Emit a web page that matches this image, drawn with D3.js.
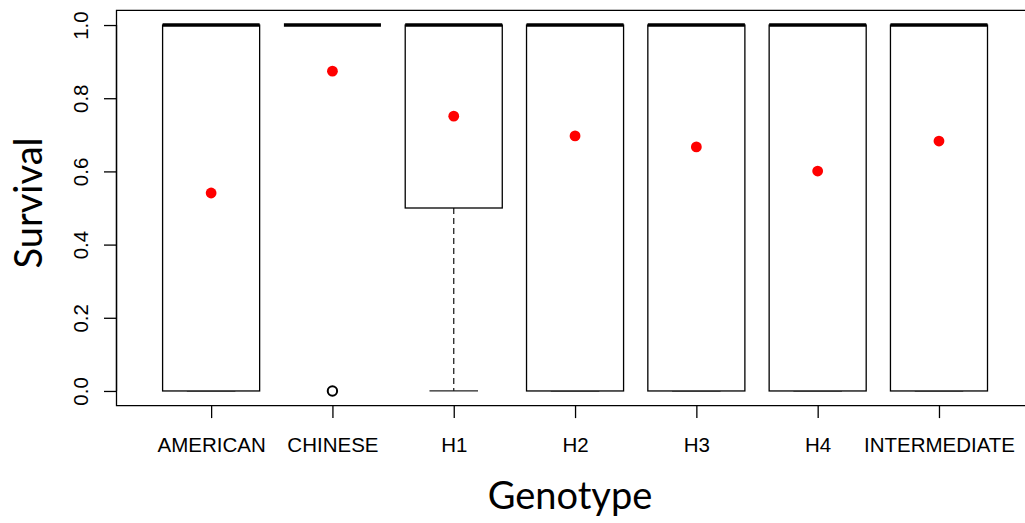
<!DOCTYPE html>
<html>
<head>
<meta charset="utf-8">
<script src="https://cdn.jsdelivr.net/npm/d3@7"></script>
<style>
  body { margin: 0; background: #fff; }
  .svg-frame { width: 1025px; height: 523px; }
  text { fill: #000; }
</style>
</head>
<body>
<div class="svg-frame"></div>
<script>
// data
const genotypes = ["AMERICAN", "CHINESE", "H1", "H2", "H3", "H4", "INTERMEDIATE"]
const whiskerLow = [0, 1, 0, 0, 0, 0, 0]
const lowerQuartile = [0, 1, 0.5, 0, 0, 0, 0]
const medians = [1, 1, 1, 1, 1, 1, 1]
const upperQuartile = [1, 1, 1, 1, 1, 1, 1]
const whiskerHigh = [1, 1, 1, 1, 1, 1, 1]
const outliers = [[], [0], [], [], [], [], []]
const means = [0.541, 0.874, 0.751, 0.697, 0.667, 0.601, 0.683]
const yTicks = [0, 0.2, 0.4, 0.6, 0.8, 1.0]

function drawViz() {
  const svg = d3.select(".svg-frame")
    .append("svg")
    .attr("width", 1025)
    .attr("height", 523)

  const plot = { left: 116.5, right: 1033.6, top: 10.4, bottom: 405.6 }
  const n = genotypes.length
  // R style: 4% padding on both axes
  const xScale = d3.scaleLinear([0.5 - 0.04 * n, n + 0.5 + 0.04 * n], [plot.left, plot.right])
  const yScale = d3.scaleLinear([-0.04, 1.04], [plot.bottom, plot.top])
  const boxW = xScale(1.8) - xScale(1)
  const stapleW = boxW / 2

  const data = genotypes.map((g, i) => ({
    g, i,
    lo: whiskerLow[i], q1: lowerQuartile[i], med: medians[i],
    q3: upperQuartile[i], hi: whiskerHigh[i], out: outliers[i], mean: means[i]
  }))

  const groups = svg.selectAll("g.box")
    .data(data)
    .join("g")
      .attr("class", "box")
      .attr("transform", d => `translate(${xScale(d.i + 1)},0)`)

  // whiskers
  groups.append("line")
    .attr("x1", 0).attr("x2", 0)
    .attr("y1", d => yScale(d.q1)).attr("y2", d => yScale(d.lo))
    .attr("stroke", "#222").attr("stroke-width", 1.3).attr("stroke-dasharray", "6,4")
  groups.append("line")
    .attr("x1", 0).attr("x2", 0)
    .attr("y1", d => yScale(d.q3)).attr("y2", d => yScale(d.hi))
    .attr("stroke", "#222").attr("stroke-width", 1.3).attr("stroke-dasharray", "6,4")
  // staples
  groups.selectAll("line.staple")
    .data(d => [d.lo, d.hi])
    .join("line")
      .attr("class", "staple")
      .attr("x1", -stapleW / 2).attr("x2", stapleW / 2)
      .attr("y1", v => yScale(v)).attr("y2", v => yScale(v))
      .attr("stroke", "#222").attr("stroke-width", 1.3)

  // boxes
  groups.append("rect")
    .attr("x", -boxW / 2)
    .attr("width", boxW)
    .attr("y", d => yScale(d.q3))
    .attr("height", d => yScale(d.q1) - yScale(d.q3))
    .attr("fill", "#fff")
    .attr("stroke", "#000").attr("stroke-width", 1.3)

  // medians
  groups.append("line")
    .attr("x1", -boxW / 2).attr("x2", boxW / 2)
    .attr("y1", d => yScale(d.med)).attr("y2", d => yScale(d.med))
    .attr("stroke", "#000").attr("stroke-width", 3.6)

  // outliers
  groups.selectAll("circle.out")
    .data(d => d.out)
    .join("circle")
      .attr("class", "out")
      .attr("cx", 0).attr("cy", v => yScale(v)).attr("r", 4.7)
      .attr("fill", "none").attr("stroke", "#000").attr("stroke-width", 2)

  // means
  groups.append("circle")
    .attr("cx", 0).attr("cy", d => yScale(d.mean)).attr("r", 5.4)
    .attr("fill", "#ff0000")

  // frame (left, top, bottom; right edge falls off the page)
  svg.append("path")
    .attr("d", `M${plot.right},${plot.top}H${plot.left}V${plot.bottom}H${plot.right}`)
    .attr("fill", "none").attr("stroke", "#000").attr("stroke-width", 1.3)

  // y axis
  const yAxis = svg.append("g")
    .attr("transform", `translate(${plot.left},0)`)
    .call(d3.axisLeft(yScale).tickValues(yTicks).tickSize(12.5).tickFormat(d3.format(".1f")))
  yAxis.select(".domain").attr("stroke-width", 1.3).attr("d", `M0,${yScale(0)}V${yScale(1)}`)
  yAxis.selectAll(".tick line").attr("stroke-width", 1.3)
  yAxis.selectAll(".tick text")
    .attr("x", null).attr("dy", null)
    .attr("transform", "translate(-28.5,0) rotate(-90)")
    .attr("text-anchor", "middle")
    .style("font", "20.5px 'Liberation Sans', Arial, sans-serif")

  // x axis
  const xAxis = svg.append("g")
    .attr("transform", `translate(0,${plot.bottom})`)
    .call(d3.axisBottom(xScale).tickValues(d3.range(1, n + 1)).tickSize(12.5)
      .tickFormat(d => genotypes[d - 1]))
  xAxis.select(".domain").remove()
  xAxis.selectAll(".tick line").attr("stroke-width", 1.3)
  xAxis.selectAll(".tick text")
    .attr("y", 46).attr("dy", null)
    .style("font", "20.5px 'Liberation Sans', Arial, sans-serif")

  // axis titles
  svg.append("text")
    .attr("x", 570).attr("y", 509)
    .attr("text-anchor", "middle")
    .style("font", "38px Lato, sans-serif")
    .text("Genotype")
  svg.append("text")
    .attr("transform", "translate(42,203) rotate(-90)")
    .attr("text-anchor", "middle")
    .style("font", "38px Lato, sans-serif")
    .text("Survival")
}

drawViz()
</script>
</body>
</html>
